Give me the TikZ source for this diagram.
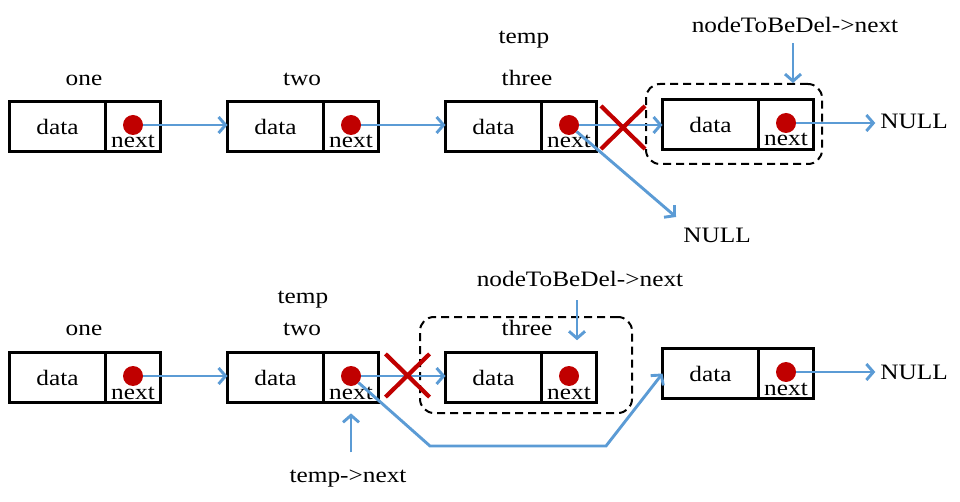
\documentclass[tikz,border=0pt]{standalone}
\usepackage{fontspec}
\setmainfont[FakeStretch=1.15]{Liberation Serif}
\usetikzlibrary{arrows.meta,shapes.misc,calc}
\definecolor{linkblue}{RGB}{91,155,213}
\definecolor{crossred}{RGB}{192,0,0}
\newcommand{\txtsize}{\fontsize{22}{26}\selectfont}

\tikzset{
  cell/.style={draw=black, line width=3pt, minimum height=50pt, inner sep=0pt, outer sep=0pt, font=\txtsize},
  datacell/.style={cell, minimum width=96pt},
  ptrcell/.style={cell, minimum width=55pt},
  ptrdot/.style={circle, fill=crossred, minimum size=20pt, inner sep=0pt, outer sep=0pt},
  lbl/.style={font=\txtsize, inner sep=0pt, outer sep=0pt, anchor=base},
  link/.style={draw=linkblue, line width=2.9pt, -{Straight Barb[length=7pt,width=16pt]}},
  cut/.style={cross out, draw=crossred, line width=4.2pt, minimum width=40pt, minimum height=39pt, inner sep=0pt},
  delbox/.style={draw=black, line width=2pt, dash pattern=on 8pt off 5pt, rounded corners=14pt, inner sep=0pt},
}

% one list element: #1 name prefix, #2 left x, #3 top y
\newcommand{\listelem}[3]{%
  \node[datacell, anchor=north west] (#1d) at (#2,#3) {data};
  \node[ptrcell, anchor=north west] (#1n) at (#1d.north east) {};
  \node[ptrdot] (#1p) at ([yshift=1.5pt]#1n.center) {};
  \node[lbl] (#1t) at ([yshift=3.5pt]#1n.south) {next};
}

\begin{document}
\begin{tikzpicture}[x=1pt,y=-1pt]
\useasboundingbox (0,0) rectangle (960,502);

% ---------- upper list: three -> next removed ----------
\listelem{ua}{9.5}{101.5}
\listelem{ub}{227.5}{101.5}
\listelem{uc}{445.5}{101.5}
\listelem{ud}{662.5}{99.5}

\node[lbl] (uone)   at (84,86)  {one};
\node[lbl] (utwo)   at (302,86) {two};
\node[lbl] (utemp)  at (524,44) {temp};
\node[lbl] (uthree) at (527,86) {three};
\node[lbl] (untbd)  at (795,33) {nodeToBeDel->next};
\node[lbl] (unull)  at (914,129) {NULL};
\node[lbl] (unull2) at (717,243) {NULL};

\node[delbox, minimum width=176pt, minimum height=80pt] (udel) at (734,124) {};

\draw[link] (uap) -- (uap -| ubd.west);
\draw[link] (ubp) -- (ubp -| ucd.west);
\draw[link] (ucp) -- (ucp -| udd.west);
\draw[link, shorten >=5pt] (udp) -- (udp -| unull.west);
\coordinate (unullend) at (676,217);
\draw[link] (ucp) -- (unullend);
\draw[link] ([xshift=-2pt,yshift=-10pt]untbd.south) -- ([xshift=-2pt]untbd.south |- udel.north);

\node[cut] (ucut) at (623,127.5) {};

% ---------- lower list: two -> next rerouted ----------
\listelem{la}{9.5}{352.5}
\listelem{lb}{227.5}{352.5}
\listelem{lc}{445.5}{352.5}
\listelem{ld}{662.5}{348.5}

\node[lbl] (lone)   at (84,335)  {one};
\node[lbl] (ltemp)  at (303,304) {temp};
\node[lbl] (ltwo)   at (302,335) {two};
\node[lbl] (lthree) at (527,335) {three};
\node[lbl] (lntbd)  at (580,287) {nodeToBeDel->next};
\node[lbl] (lnull)  at (914,379) {NULL};
\node[lbl] (ltn)    at (348,482) {temp->next};

\node[delbox, minimum width=212pt, minimum height=96pt] (ldel) at (526,365) {};

\draw[link] (lap) -- (lap -| lbd.west);
\draw[link] (lbp) -- (lbp -| lcd.west);
\draw[link, shorten >=5pt] (ldp) -- (ldp -| lnull.west);
\coordinate (lbend1) at (430,446);
\coordinate (lbend2) at (606,446);
\draw[link] (lbp) -- (lbend1) -- (lbend2) -- (ldd.west);
\draw[link] ([xshift=-3pt,yshift=-13pt]lntbd.south) -- ++(0,40);
\draw[link] ([xshift=3pt,yshift=17pt]ltn.north) -- ++(0,-39);

\node[cut] (lcut) at (407.5,375.5) {};
\end{tikzpicture}
\end{document}
